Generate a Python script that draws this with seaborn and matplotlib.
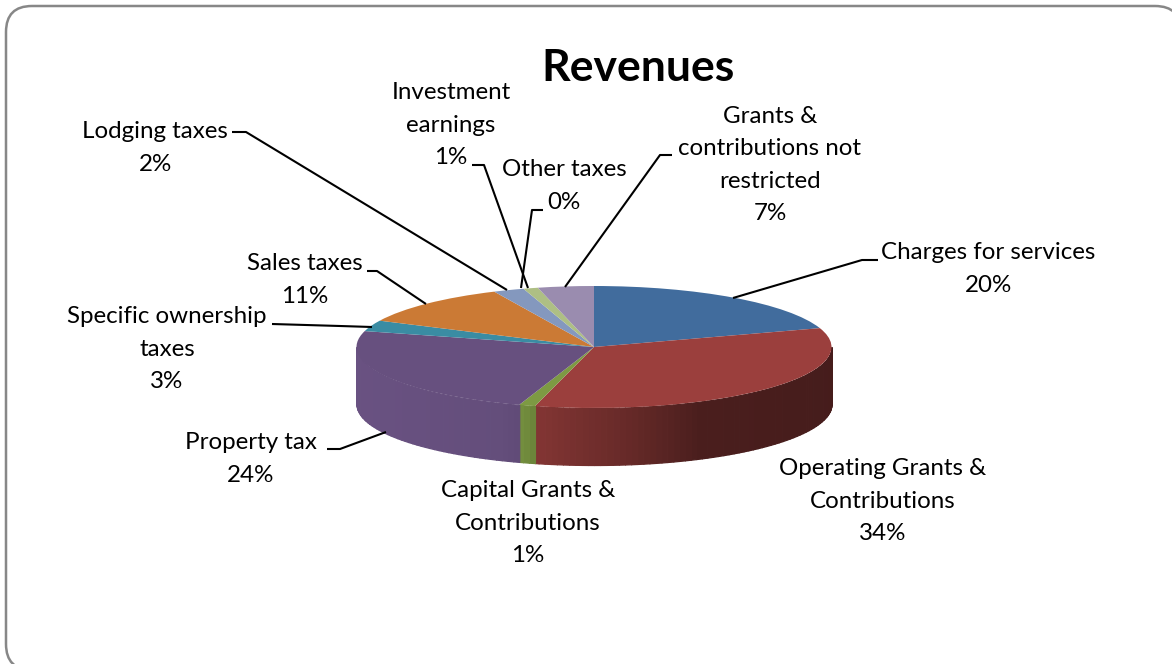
import numpy as np
import matplotlib
matplotlib.use("Agg")
import matplotlib.pyplot as plt
from matplotlib.patches import FancyBboxPatch
import seaborn as sns

# slices as they sit around the rim, clockwise from 12 o'clock
categories = ["Charges for services", "Operating Grants & Contributions",
              "Capital Grants & Contributions", "Property tax",
              "Specific ownership taxes", "Sales taxes", "Lodging taxes",
              "Other taxes", "Investment earnings",
              "Grants & contributions not restricted"]
shares = [20.0, 34.0, 1.1, 24.1, 2.9, 11.0, 2.1, 0.0, 1.0, 3.8]

label_lines = ["Charges for services\n20%", "Operating Grants &\nContributions\n34%",
               "Capital Grants &\nContributions\n1%", "Property tax\n24%",
               "Specific ownership\ntaxes\n3%", "Sales taxes\n11%",
               "Lodging taxes\n2%", "Other taxes\n0%", "Investment\nearnings\n1%",
               "Grants &\ncontributions not\nrestricted\n7%"]

slice_colors = ["#416C9D", "#9B3F3D", "#7D9A43", "#67507F", "#3A8CA3",
                "#CB7A35", "#8498BE", "#BE8584", "#AEBF84", "#9A8CAF"]

# layout, in picture pixels
W, H = 1172, 664
label_pos = [(988, 269), (883, 501), (528, 523), (251, 459), (167, 349),
             (305, 280), (155, 148), (564, 186), (451, 125), (770, 165)]
leaders = [[(878, 260), (862, 260), (733, 298)],
           [],
           [],
           [(327, 449), (340, 449), (386, 432)],
           [(272, 324), (340, 326), (372, 327)],
           [(367, 271), (377, 271), (426, 304)],
           [(232, 132), (246, 132), (507, 290)],
           [(543, 210), (532, 210), (521, 288)],
           [(472, 165), (484, 165), (528, 288)],
           [(672, 155), (660, 155), (565, 287)]]
cx, cy, rx, ry, depth = 594, 347, 237.5, 61, 57

sns.set_theme(style="white")
plt.rcParams["font.family"] = ["Lato", "DejaVu Sans"]

fig = plt.figure(figsize=(W / 100, H / 100), dpi=100)

# overlay in pixel coords for frame, text, leaders
bg = fig.add_axes([0, 0, 1, 1])
bg.set_xlim(0, W)
bg.set_ylim(H, 0)
bg.axis("off")
bg.add_patch(FancyBboxPatch((6, 6), 1175, 664, boxstyle="round,pad=0,rounding_size=26",
                            fc="white", ec="#878787", lw=1.8))

# pie squashed by its axes box, which gives the tilted look
ax = fig.add_axes([(cx - rx) / W, 1 - (cy + ry) / H, 2 * rx / W, 2 * ry / H])
ax.patch.set_alpha(0)


def side_shade(x):
    # light falls off toward the right of the wall
    return np.interp(x, [-1, -0.4, -0.32, -0.24, 0.16, 0.44, 1],
                     [1.02, 0.97, 0.94, 0.84, 0.65, 0.48, 0.45])


edges = np.cumsum([0] + shares) / sum(shares) * 360
for color, a, b in zip(slice_colors, edges[:-1], edges[1:]):
    a, b = max(a, 90), min(b, 270)
    if b <= a:
        continue
    steps = np.arange(a, b, 1.5).tolist() + [b]
    base = np.array(matplotlib.colors.to_rgb(color))
    for t0, t1 in zip(steps[:-1], steps[1:]):
        th = np.radians(np.linspace(t0, t1, 4))
        xs = np.sin(th)
        ys = np.cos(th)
        shade = np.clip(base * side_shade(xs.mean()), 0, 1)
        ax.fill_between(xs, ys, ys - depth / ry, color=shade, lw=0.9, clip_on=False, zorder=1)

wedges, _ = ax.pie(shares, colors=slice_colors, startangle=90, counterclock=False,
                   radius=1, wedgeprops={"linewidth": 0})
for w in wedges:
    w.set_clip_on(False)
    w.set_zorder(2)
ax.set_aspect("auto")
ax.set_xlim(-1, 1)
ax.set_ylim(-1, 1)
ax.axis("off")

# labels on top of everything
top = fig.add_axes([0, 0, 1, 1])
top.set_xlim(0, W)
top.set_ylim(H, 0)
top.axis("off")
top.patch.set_alpha(0)
for text, (x, y), pts in zip(label_lines, label_pos, leaders):
    top.text(x, y, text, ha="center", va="center", fontsize=17.4, color="black", linespacing=1.66)
    if pts:
        top.plot(*zip(*pts), color="black", lw=1.5, solid_capstyle="butt")
top.text(638, 68, "Revenues", ha="center", va="center", fontsize=32, fontweight="bold", color="black")

fig.savefig("out.png", dpi=100)
